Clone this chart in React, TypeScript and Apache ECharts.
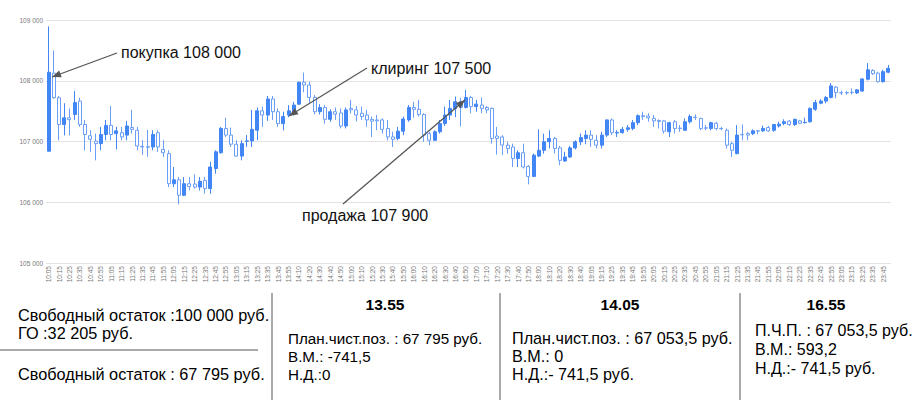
import React, { useEffect, useRef } from "react";
import * as echarts from "echarts";

const times = [
  "10:05","10:10","10:15","10:20","10:25","10:30","10:35","10:40","10:45","10:50","10:55",
  "11:00","11:05","11:10","11:15","11:20","11:25","11:30","11:35","11:40","11:45","11:50","11:55",
  "12:00","12:05","12:10","12:15","12:20","12:25","12:30","12:35","12:40","12:45","12:50","12:55",
  "13:00","13:05","13:10","13:15","13:20","13:25","13:30","13:35","13:40","13:45","13:50","13:55",
  "14:05","14:10","14:15","14:20","14:25","14:30","14:35","14:40","14:45","14:50","14:55",
  "15:00","15:05","15:10","15:15","15:20","15:25","15:30","15:35","15:40","15:45","15:50","15:55",
  "16:00","16:05","16:10","16:15","16:20","16:25","16:30","16:35","16:40","16:45","16:50","16:55",
  "17:00","17:05","17:10","17:15","17:20","17:25","17:30","17:35","17:40","17:45","17:50","17:55",
  "18:00","18:05","18:10","18:15","18:20","18:25","18:30","18:35","18:40","18:45",
  "19:05","19:10","19:15","19:20","19:25","19:30","19:35","19:40","19:45","19:50","19:55",
  "20:00","20:05","20:10","20:15","20:20","20:25","20:30","20:35","20:40","20:45","20:50","20:55",
  "21:00","21:05","21:10","21:15","21:20","21:25","21:30","21:35","21:40","21:45","21:50","21:55",
  "22:00","22:05","22:10","22:15","22:20","22:25","22:30","22:35","22:40","22:45","22:50","22:55",
  "23:00","23:05","23:10","23:15","23:20","23:25","23:30","23:35","23:40","23:45","23:50"
];

const opens = [
  106840,108125,107720,107280,107390,107445,107665,107280,107095,107005,
  106965,107115,107265,107130,107145,107105,107230,107185,106920,106915,
  106910,107145,106870,106800,106305,106370,106115,106305,106300,106250,
  106360,106225,106555,106815,107215,107105,106955,106760,107005,107010,
  107185,107505,107435,107700,107490,107295,107435,107465,107615,107975,
  107930,107725,107490,107560,107365,107490,107470,107255,107545,107520,
  107465,107435,107365,107355,107355,107215,107075,107050,107170,107355,
  107560,107530,107445,107130,107020,107160,107295,107435,107545,107660,
  107560,107725,107575,107600,107560,107545,107090,107075,106940,106910,
  106720,106815,106590,106425,106760,106855,106995,107050,106895,106680,
  106745,106895,106995,107050,107105,107020,106940,107105,107355,107140,
  107145,107200,107215,107310,107425,107420,107380,107345,107340,107160,
  107325,107220,107185,107325,107400,107380,107225,107215,107300,107215,
  107185,106965,106800,107115,107130,107130,107175,107175,107230,107185,
  107255,107295,107335,107280,107340,107310,107325,107530,107630,107665,
  107725,107895,107805,107805,107810,107800,107830,108025,108170,108125,
  107985,108140
];

const closes = [
  108140,107720,107280,107390,107360,107640,107280,107115,107035,106965,
  107115,107265,107115,107175,107075,107255,107200,106925,106910,106905,
  107115,106910,106815,106305,106370,106115,106305,106260,106250,106345,
  106225,106580,106830,107215,107105,106955,106760,106965,107010,107200,
  107505,107435,107700,107490,107295,107410,107505,107600,107975,107930,
  107725,107490,107560,107365,107490,107450,107255,107520,107520,107435,
  107410,107355,107335,107340,107200,107075,107035,107170,107370,107560,
  107530,107445,107105,107020,107160,107295,107435,107545,107655,107560,
  107725,107575,107615,107545,107520,107050,107050,106940,106885,106720,
  106815,106580,106425,106775,106855,106995,107050,106885,106690,106745,
  106895,106995,107065,107105,107035,106940,107105,107355,107145,107150,
  107200,107225,107310,107425,107410,107390,107340,107330,107170,107310,
  107215,107215,107325,107410,107395,107215,107220,107310,107215,107210,
  106940,106855,107105,107110,107105,107175,107170,107215,107175,107280,
  107285,107325,107280,107365,107300,107315,107545,107640,107665,107725,
  107915,107805,107800,107800,107805,107850,108030,108180,108115,107985,
  108150,108205
];

const lows = [
  106840,107700,107020,107100,107100,107355,107240,106855,106830,106690,
  106855,107020,107020,106870,107020,107020,107130,106855,106780,106750,
  106855,106830,106745,106250,106250,105965,106100,106195,106225,106195,
  106140,106140,106470,106800,107075,106910,106745,106690,106910,106910,
  107020,107240,107340,107355,107240,107185,107400,107430,107600,107810,
  107630,107445,107445,107295,107325,107355,107215,107215,107460,107330,
  107355,107240,107075,107185,107130,107020,106910,107020,107105,107325,
  107390,107410,106995,106940,107010,107130,107255,107355,107400,107250,
  107545,107465,107490,107465,107465,106965,106785,106775,106800,106580,
  106580,106555,106295,106415,106745,106800,106885,106800,106610,106665,
  106730,106870,106940,106955,106910,106885,106885,107075,107105,107075,
  107130,107160,107185,107270,107355,107325,107240,107215,107130,107075,
  107130,107160,107175,107295,107355,107185,107185,107185,107185,107185,
  106885,106745,106790,107020,107020,107105,107120,107160,107160,107160,
  107230,107270,107255,107255,107285,107295,107310,107505,107615,107630,
  107710,107710,107765,107770,107775,107780,107820,108005,108095,107970,
  107970,108125
];

const highs = [
  108895,108500,107750,107630,107545,107830,107720,107355,107185,107130,
  107240,107355,107585,107240,107240,107340,107520,107240,107020,107190,
  107185,107185,107020,106855,106580,106415,106415,106415,106460,106415,
  106415,106665,106855,107240,107390,107230,107020,107020,107105,107520,
  107560,107575,107750,107750,107545,107490,107600,107650,107985,108135,
  107985,107765,107615,107600,107530,107560,107545,107560,107685,107585,
  107575,107520,107410,107435,107380,107355,107160,107240,107410,107600,
  107655,107685,107465,107160,107185,107355,107575,107685,107740,107720,
  107850,107750,107685,107725,107585,107560,107240,107105,106995,106965,
  106855,106965,106610,106800,107200,107130,107185,107075,106925,106830,
  106925,107020,107130,107185,107185,107105,107160,107365,107380,107185,
  107240,107270,107355,107445,107490,107465,107435,107365,107355,107325,
  107355,107270,107380,107445,107445,107390,107270,107325,107325,107240,
  107215,106995,107270,107280,107160,107200,107185,107260,107255,107285,
  107325,107365,107355,107375,107355,107390,107560,107685,107695,107750,
  107960,107915,107840,107830,107875,107860,108040,108290,108190,108150,
  108180,108260
];

const yTicks = [105000, 106000, 107000, 108000, 109000];

const arrowNotes = [
  { text: "покупка 108 000", tx: 121, ty: 52, x1: 117, y1: 53, x2: 52, y2: 77 },
  { text: "клиринг 107 500", tx: 371, ty: 68, x1: 367, y1: 68, x2: 289, y2: 116 },
  { text: "продажа 107 900", tx: 302, ty: 215, x1: 343, y1: 204, x2: 465, y2: 100 }
];

const leftLines = [
  { text: "Свободный остаток :100 000 руб.", x: 18, y: 315 },
  { text: "ГО :32 205 руб.", x: 18, y: 333 },
  { text: "Свободный остаток : 67 795 руб.", x: 18, y: 374 }
];

const columns = [
  {
    title: "13.55", cx: 385, x: 288, y0: 338, dy: 18, size: 15.2,
    lines: ["План.чист.поз. : 67 795 руб.", "В.М.: -741,5", "Н.Д.:0"]
  },
  {
    title: "14.05", cx: 620, x: 512, y0: 338, dy: 18, size: 16.2,
    lines: ["План.чист.поз. : 67 053,5 руб.", "В.М.: 0", "Н.Д.:- 741,5 руб."]
  },
  {
    title: "16.55", cx: 826, x: 755, y0: 330, dy: 19, size: 16,
    lines: ["П.Ч.П. : 67 053,5 руб.", "В.М.: 593,2", "Н.Д.:- 741,5 руб."]
  }
];

const FONT = 'Arial, "Liberation Sans", sans-serif';

function arrowHead(x1: number, y1: number, x2: number, y2: number) {
  const dx = x2 - x1, dy = y2 - y1;
  const len = Math.sqrt(dx * dx + dy * dy);
  const ux = dx / len, uy = dy / len;
  const L = 9, W = 3.6;
  const bx = x2 - ux * L, by = y2 - uy * L;
  return [
    [x2, y2],
    [bx - uy * W, by + ux * W],
    [bx + uy * W, by - ux * W]
  ];
}

export default function App() {
  const ref = useRef<HTMLDivElement>(null);
  useEffect(() => {
    if (!ref.current) return;
    const chart = echarts.init(ref.current, null, { renderer: "svg" });
    const data = times.map((_, i) => [opens[i], closes[i], lows[i], highs[i]]);

    const graphic: any[] = [];
    arrowNotes.forEach((a) => {
      graphic.push({
        type: "line",
        shape: { x1: a.x1, y1: a.y1, x2: a.x2, y2: a.y2 },
        style: { stroke: "#555", lineWidth: 1.3 },
        z: 100
      });
      graphic.push({
        type: "polygon",
        shape: { points: arrowHead(a.x1, a.y1, a.x2, a.y2) },
        style: { fill: "#555" },
        z: 100
      });
      graphic.push({
        type: "text",
        x: a.tx,
        y: a.ty,
        style: {
          text: a.text, fill: "#111", fontSize: 16, fontFamily: FONT,
          align: "left", verticalAlign: "middle"
        },
        z: 100
      });
    });
    leftLines.forEach((l) => {
      graphic.push({
        type: "text", x: l.x, y: l.y,
        style: { text: l.text, fill: "#000", fontSize: 16.3, fontFamily: FONT, align: "left", verticalAlign: "middle" }
      });
    });
    graphic.push({ type: "line", shape: { x1: 0, y1: 350, x2: 258, y2: 350 }, style: { stroke: "#555", lineWidth: 1 } });
    [272, 500, 740].forEach((x) => {
      graphic.push({ type: "line", shape: { x1: x, y1: 293, x2: x, y2: 400 }, style: { stroke: "#555", lineWidth: 1 } });
    });
    columns.forEach((c) => {
      graphic.push({
        type: "text", x: c.cx, y: 304,
        style: { text: c.title, fill: "#000", fontSize: 15.5, fontWeight: "bold", fontFamily: FONT, align: "center", verticalAlign: "middle" }
      });
      c.lines.forEach((t, k) => {
        graphic.push({
          type: "text", x: c.x, y: c.y0 + k * c.dy,
          style: { text: t, fill: "#000", fontSize: c.size, fontFamily: FONT, align: "left", verticalAlign: "middle" }
        });
      });
    });

    chart.setOption({
      animation: false,
      backgroundColor: "#fff",
      grid: { left: 46, right: 27, top: 20, bottom: 137 },
      xAxis: {
        type: "category",
        data: times,
        boundaryGap: true,
        axisLine: { show: false },
        axisTick: { show: false },
        axisLabel: {
          interval: 1, rotate: 90, fontSize: 6.5, color: "#777", margin: 3, fontFamily: FONT
        },
        splitLine: { show: false }
      },
      yAxis: {
        type: "value",
        min: yTicks[0],
        max: yTicks[yTicks.length - 1],
        interval: 1000,
        scale: false,
        axisLine: { show: false },
        axisTick: { show: false },
        axisLabel: {
          fontSize: 6.5, color: "#777", margin: 3, fontFamily: FONT,
          formatter: (v: number) => String(v).replace(/\B(?=(\d{3})+(?!\d))/g, " ")
        },
        splitLine: { lineStyle: { color: "#e3e3e3", width: 1 } }
      },
      series: [
        {
          type: "candlestick",
          data,
          barWidth: 3.5,
          itemStyle: {
            color: "#4285f4",
            borderColor: "#4285f4",
            color0: "#ffffff",
            borderColor0: "#6b9ef6",
            borderWidth: 1
          }
        }
      ],
      graphic
    });
    return () => chart.dispose();
  }, []);
  return (
    <div
      ref={ref}
      style={{ position: "absolute", left: 0, top: 0, width: 918, height: 400, background: "#fff" }}
    />
  );
}
